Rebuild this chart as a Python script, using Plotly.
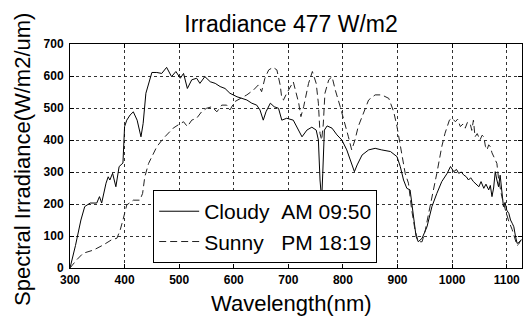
import plotly.graph_objects as go

cloudy_wl = [300, 310, 320, 327, 337, 349, 354, 358, 366, 370, 373, 378, 384, 390, 397, 400, 404, 410, 416, 423,
             430, 434, 439, 444, 450, 459, 468, 477, 486, 494, 502, 508, 515, 523, 532, 538, 547, 557, 566, 575,
             584, 593, 606, 615, 624, 633, 642, 648, 654, 659, 667, 674, 682, 688, 697, 709, 719, 725, 734, 743,
             751, 755, 758, 761, 763, 766, 771, 780, 789, 798, 807, 815, 821, 826, 835, 847, 859, 871, 887, 899,
             905, 911, 917, 923, 929, 934, 938, 945, 954, 963, 972, 981, 991, 997, 1003, 1008, 1012, 1017, 1021, 1026,
             1030, 1034, 1039, 1044, 1049, 1053, 1058, 1062, 1067, 1070, 1073, 1076, 1079, 1082, 1085, 1088, 1091, 1094, 1097, 1100,
             1104, 1107, 1110, 1113, 1116, 1119, 1122, 1127]
cloudy_val = [0, 70, 150, 192, 203, 203, 223, 203, 265, 285, 275, 296, 254, 317, 328, 442, 462, 478, 488, 462,
              410, 452, 546, 577, 611, 611, 608, 627, 598, 614, 593, 608, 561, 588, 593, 577, 598, 582, 577, 567,
              561, 546, 535, 530, 525, 515, 509, 494, 462, 488, 515, 504, 499, 462, 468, 462, 431, 410, 431, 440,
              431, 400, 275, 212, 296, 431, 444, 437, 416, 400, 369, 327, 301, 322, 353, 369, 374, 369, 364, 348,
              317, 275, 249, 244, 160, 98, 82, 93, 129, 192, 233, 270, 296, 317, 301, 308, 296, 300, 291, 285,
              275, 282, 270, 262, 254, 270, 249, 262, 244, 258, 223, 250, 301, 275, 254, 290, 230, 192, 205, 181,
              170, 150, 140, 129, 100, 77, 80, 88]

sunny_wl = [300, 312, 324, 343, 361, 376, 386, 392, 397, 404, 416, 428, 433, 437, 444, 450, 459, 471, 480, 489,
            498, 508, 515, 523, 532, 541, 550, 560, 569, 578, 587, 593, 602, 612, 624, 636, 645, 651, 657, 664,
            672, 679, 685, 688, 691, 697, 709, 719, 723, 728, 737, 744, 751, 755, 758, 761, 764, 767, 774, 780,
            786, 795, 801, 810, 816, 822, 828, 838, 847, 859, 871, 884, 893, 899, 902, 908, 914, 920, 926, 932,
            938, 945, 951, 957, 966, 972, 981, 987, 995, 1000, 1006, 1010, 1015, 1020, 1024, 1028, 1033, 1036, 1039, 1042,
            1046, 1051, 1055, 1058, 1061, 1064, 1067, 1070, 1073, 1076, 1079, 1082, 1085, 1088, 1091, 1097, 1103, 1110, 1116, 1119,
            1122, 1127]
sunny_val = [0, 25, 46, 56, 72, 88, 93, 119, 150, 197, 212, 212, 233, 285, 327, 348, 379, 405, 421, 437,
             447, 457, 442, 462, 468, 488, 499, 504, 488, 509, 509, 494, 520, 530, 541, 556, 572, 551, 593, 619,
             627, 619, 572, 530, 525, 546, 582, 515, 473, 504, 577, 614, 577, 515, 420, 400, 450, 546, 588, 598,
             556, 504, 468, 410, 369, 400, 442, 488, 525, 541, 541, 530, 488, 442, 410, 358, 296, 265, 181, 119,
             82, 82, 119, 171, 244, 296, 379, 421, 462, 468, 457, 465, 442, 450, 437, 455, 452, 430, 462, 410,
             420, 400, 415, 410, 380, 369, 385, 379, 360, 348, 335, 327, 280, 250, 223, 185, 150, 120, 88, 70,
             75, 90]

x_ticks = [300, 400, 500, 600, 700, 800, 900, 1000, 1100]
y_ticks = [0, 100, 200, 300, 400, 500, 600, 700]

FONT = "Liberation Sans, Arial, sans-serif"

fig = go.Figure()
fig.add_trace(go.Scatter(x=cloudy_wl, y=cloudy_val, mode="lines",
                         name="Cloudy\u00a0\u00a0AM 09:50",
                         line=dict(color="black", width=1)))
fig.add_trace(go.Scatter(x=sunny_wl, y=sunny_val, mode="lines",
                         name="Sunny\u00a0\u00a0\u00a0PM 18:19",
                         line=dict(color="#222", width=1, dash="7px,4px")))

axis_common = dict(
    showline=True, linecolor="black", linewidth=1, mirror="ticks",
    ticks="inside", ticklen=4, tickcolor="black",
    showgrid=True, gridcolor="#333", gridwidth=1, griddash="dot",
    zeroline=False, automargin=False,
    tickfont=dict(family=FONT, size=12, color="black", weight="bold"),
)

fig.update_layout(
    width=529, height=318,
    margin=dict(l=70, r=7, t=44, b=50, autoexpand=False),
    paper_bgcolor="white", plot_bgcolor="white",
    title=dict(text="Irradiance 477 W/m2", x=291 / 529, xanchor="center", xref="container",
               y=1 - 24 / 318, yanchor="middle", yref="container",
               font=dict(family=FONT, size=23, color="black")),
    xaxis=dict(range=[300, 1128], tickvals=x_ticks, ticklabelstandoff=1, **axis_common),
    yaxis=dict(range=[0, 700], tickvals=y_ticks, ticklabelstandoff=3, **axis_common),
    legend=dict(x=0.184, y=0.022, xanchor="left", yanchor="bottom",
                bgcolor="white", bordercolor="black", borderwidth=1,
                font=dict(family=FONT, size=21, color="black"),
                tracegroupgap=0, itemwidth=40),
    showlegend=True,
    annotations=[
        dict(text="Wavelength(nm)", xref="paper", yref="paper",
             x=(291.5 - 70) / 452, y=(268 - 289) / 224, xanchor="center", yanchor="top",
             showarrow=False, font=dict(family=FONT, size=22, color="black")),
        dict(text="Spectral Irradiance(W/m2/um)", xref="paper", yref="paper", textangle=-90,
             x=(22 - 70) / 452, y=(268 - 160) / 224, xanchor="center", yanchor="middle",
             showarrow=False, font=dict(family=FONT, size=22, color="black")),
    ],
)

fig.write_html("out.html", config={"displayModeBar": False})

# remove the default page margin so the figure fills the 529x318 window
with open("out.html", "r", encoding="utf-8") as f:
    html = f.read()
html = html.replace("<head>", "<head><style>html,body{margin:0;padding:0;overflow:hidden;}</style>", 1)
with open("out.html", "w", encoding="utf-8") as f:
    f.write(html)
